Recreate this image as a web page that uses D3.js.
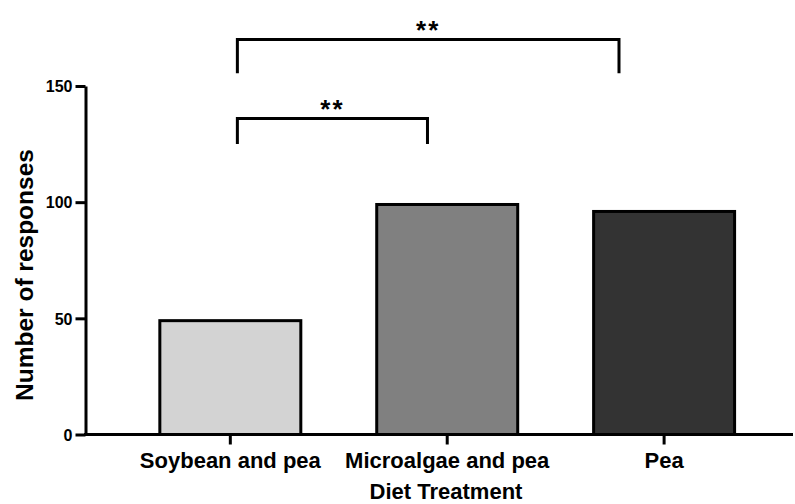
<!DOCTYPE html>
<html>
<head>
<meta charset="utf-8">
<script src="https://cdn.jsdelivr.net/npm/d3@7"></script>
<style>
  html, body { margin: 0; padding: 0; background: #fff; }
  svg { display: block; }
  text { font-family: "Liberation Sans", Arial, sans-serif; font-weight: bold; fill: #000; }
</style>
</head>
<body>
<svg id="chart" width="795" height="504"></svg>
<script>
// ---- data ----
const categories = ["Soybean and pea", "Microalgae and pea", "Pea"];
const responses = [49, 99, 96];
const barColors = ["#d3d3d3", "#808080", "#333333"];
const yTicks = [0, 50, 100, 150];
const xTitle = "Diet Treatment";
const yTitle = "Number of responses";
// significance brackets: from/to category, top value, leg bottom value, label
const bracketFrom = ["Soybean and pea", "Soybean and pea"];
const bracketTo = ["Microalgae and pea", "Pea"];
const bracketTop = [136, 170];
const bracketBottom = [125, 155.5];
const bracketLabel = ["**", "**"];
// horizontal anchor inside each band (fraction of bandwidth)
const bracketFromFrac = [0.55, 0.55];
const bracketToFrac = [0.36, 0.18];

// ---- layout ----
const svg = d3.select("#chart");
const axisLeftX = 85.5, axisBottomY = 434.5, axisRightX = 793, axisTopY = 86;

const x = d3.scaleBand()
  .domain(categories)
  .range([axisLeftX, axisRightX])
  .paddingInner(0.35)
  .paddingOuter(0.306)
  .align(0.56);

const y = d3.scaleLinear().domain([0, 150]).range([axisBottomY, axisTopY]);

// bars
svg.append("g").selectAll("rect")
  .data(categories)
  .join("rect")
  .attr("x", d => x(d))
  .attr("y", (d, i) => y(responses[i]))
  .attr("width", x.bandwidth())
  .attr("height", (d, i) => y(0) - y(responses[i]))
  .attr("fill", (d, i) => barColors[i])
  .attr("stroke", "#000")
  .attr("stroke-width", 3);

// y axis
const yAxis = svg.append("g")
  .attr("transform", `translate(${axisLeftX},0)`)
  .call(d3.axisLeft(y).tickValues(yTicks).tickSize(10).tickPadding(3).tickSizeOuter(0));
yAxis.select(".domain").attr("stroke", "#000").attr("stroke-width", 3);
yAxis.selectAll(".tick line").attr("stroke", "#000").attr("stroke-width", 3);
yAxis.selectAll(".tick text").style("font-size", "16px").attr("dy", "0.36em");

// x axis
const xAxis = svg.append("g")
  .attr("transform", `translate(0,${axisBottomY})`)
  .call(d3.axisBottom(x).tickSize(10).tickPadding(7.5).tickSizeOuter(0));
xAxis.select(".domain").attr("stroke", "#000").attr("stroke-width", 3)
  .attr("d", `M${axisLeftX - 1.5},0H${axisRightX}`);
xAxis.selectAll(".tick line").attr("stroke", "#000").attr("stroke-width", 3);
xAxis.selectAll(".tick text").style("font-size", "22px");

// axis titles
svg.append("text")
  .attr("x", 446).attr("y", 499)
  .attr("text-anchor", "middle")
  .style("font-size", "22px")
  .text(xTitle);

svg.append("text")
  .attr("transform", "translate(33,275) rotate(-90)")
  .attr("text-anchor", "middle")
  .style("font-size", "24.5px")
  .text(yTitle);

// significance brackets
const br = svg.append("g");
bracketFrom.forEach((from, i) => {
  const x1 = x(from) + x.bandwidth() * bracketFromFrac[i];
  const x2 = x(bracketTo[i]) + x.bandwidth() * bracketToFrac[i];
  const yt = y(bracketTop[i]);
  const yb = y(bracketBottom[i]);
  br.append("path")
    .attr("d", `M${x1},${yb}V${yt}H${x2}V${yb}`)
    .attr("fill", "none")
    .attr("stroke", "#000")
    .attr("stroke-width", 3)
    .attr("stroke-linejoin", "miter")
    .attr("stroke-linecap", "butt");
  br.append("text")
    .attr("x", (x1 + x2) / 2)
    .attr("y", yt - 1)
    .attr("text-anchor", "middle")
    .style("font-size", "26px")
    .style("letter-spacing", "2px")
    .text(bracketLabel[i]);
});
</script>
</body>
</html>
